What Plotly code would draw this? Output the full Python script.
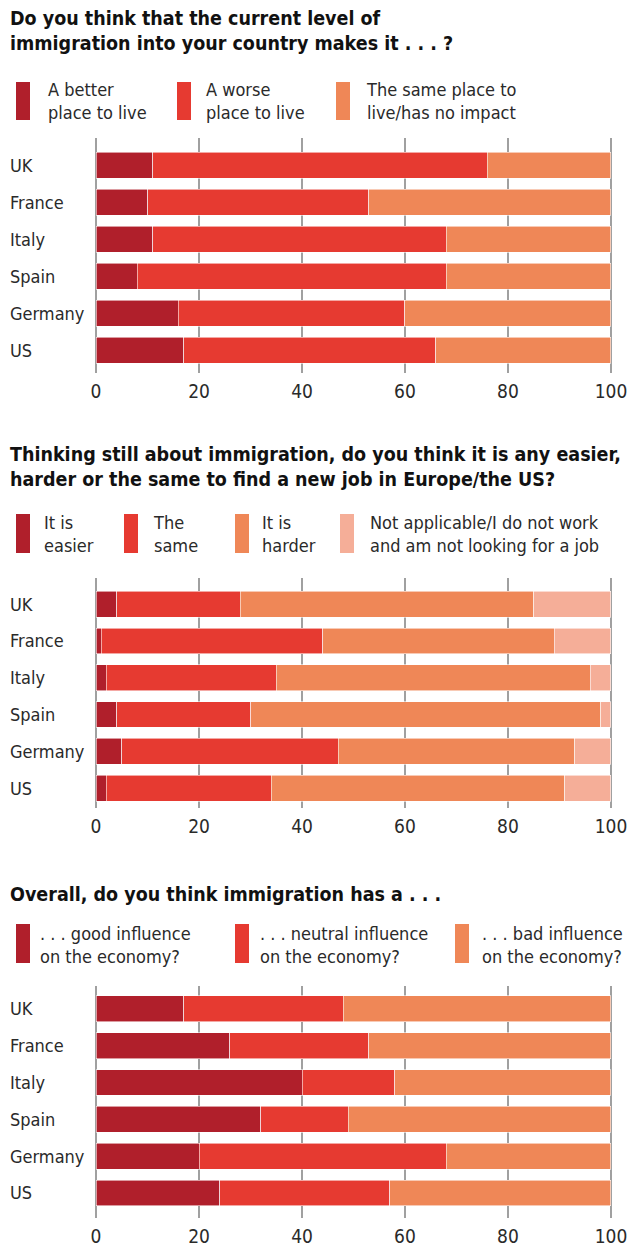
import plotly.graph_objects as go

W, H = 635, 1249

countries = ["UK", "France", "Italy", "Spain", "Germany", "US"]

# Chart 1: current level of immigration makes country ...
c1_better = [11, 10, 11, 8, 16, 17]
c1_worse = [65, 43, 57, 60, 44, 49]
c1_same = [24, 47, 32, 32, 40, 34]
c1_names = ["A better<br>place to live", "A worse<br>place to live", "The same place to<br>live/has no impact"]

# Chart 2: easier/harder to find a job
c2_easier = [4, 1, 2, 4, 5, 2]
c2_same = [24, 43, 33, 26, 42, 32]
c2_harder = [57, 45, 61, 68, 46, 57]
c2_na = [15, 11, 4, 2, 7, 9]
c2_names = ["It is<br>easier", "The<br>same", "It is<br>harder", "Not applicable/I do not work<br>and am not looking for a job"]

# Chart 3: influence on the economy
c3_good = [17, 26, 40, 32, 20, 24]
c3_neutral = [31, 27, 18, 17, 48, 33]
c3_bad = [52, 47, 42, 51, 32, 43]
c3_names = [". . . good influence<br>on the economy?", ". . . neutral influence<br>on the economy?", ". . . bad influence<br>on the economy?"]

titles = [
    "Do you think that the current level of<br>immigration into your country makes it . . . ?",
    "Thinking still about immigration, do you think it is any easier,<br>harder or the same to find a new job in Europe/the US?",
    "Overall, do you think immigration has a . . .",
]

x_ticks = [0, 20, 40, 60, 80, 100]
colors = ["#B01F2B", "#E63A31", "#EF8757", "#F5AE98"]

FONT = "DejaVu Sans Condensed, Liberation Sans Narrow, sans-serif"
TXT = "#2a2a2a"


def fx(px):
    return px / W


def fy(py):
    return 1 - py / H


fig = go.Figure()

charts = [
    dict(series=[c1_better, c1_worse, c1_same], names=c1_names, top=138, bottom=373, yr=[5.61, -0.73],
         title_y=5, leg_top=82, leg_h=38, leg_line1=89, sw_x=[16, 177, 336], tx_x=[46, 204, 364]),
    dict(series=[c2_easier, c2_same, c2_harder, c2_na], names=c2_names, top=578, bottom=808, yr=[5.54, -0.71],
         title_y=441, leg_top=514, leg_h=39, leg_line1=522, sw_x=[16, 124, 235, 340], tx_x=[42, 151, 260, 368]),
    dict(series=[c3_good, c3_neutral, c3_bad], names=c3_names, top=986, bottom=1218, yr=[5.68, -0.62],
         title_y=881, leg_top=924, leg_h=39, leg_line1=933, sw_x=[16, 235, 455], tx_x=[38, 258, 480]),
]

annotations = []
shapes = []
for i, ch in enumerate(charts):
    k = "" if i == 0 else str(i + 1)
    for j, (vals, name) in enumerate(zip(ch["series"], ch["names"])):
        fig.add_trace(go.Bar(
            x=vals, y=countries, orientation="h", name=name,
            marker=dict(color=colors[j], line=dict(color="rgba(255,255,255,0.7)", width=0.8)),
            width=0.7, showlegend=False, xaxis="x" + k, yaxis="y" + k,
            hoverinfo="x+y",
        ))
        # legend swatch
        shapes.append(dict(type="rect", xref="paper", yref="paper",
                           x0=fx(ch["sw_x"][j]), x1=fx(ch["sw_x"][j] + 14),
                           y0=fy(ch["leg_top"] + ch["leg_h"]), y1=fy(ch["leg_top"]),
                           fillcolor=colors[j], line=dict(width=0)))
        annotations.append(dict(xref="paper", yref="paper", x=fx(ch["tx_x"][j]), y=fy(ch["leg_line1"] - 12),
                                xanchor="left", yanchor="top", align="left", showarrow=False,
                                text=name, font=dict(family=FONT, size=18, color=TXT)))
    # title
    annotations.append(dict(xref="paper", yref="paper", x=fx(8), y=fy(ch["title_y"]),
                            xanchor="left", yanchor="top", align="left", showarrow=False,
                            text="<b>" + titles[i] + "</b>", font=dict(family=FONT, size=19.5, color="#111")))
    # category labels, left aligned
    for c in countries:
        annotations.append(dict(xref="paper", yref="y" + k, x=fx(8), y=c, xanchor="left", yanchor="middle",
                                showarrow=False, text=c, font=dict(family=FONT, size=18, color=TXT)))
    fig.layout["xaxis" + k] = dict(
        domain=[fx(95), fx(612)], range=[-0.2, 100.2], tickvals=x_ticks, ticktext=[str(t) for t in x_ticks],
        showgrid=True, gridcolor="#a0a0a0", gridwidth=1.5, zeroline=False, showline=False, ticks="",
        anchor="y" + k, tickfont=dict(family=FONT, size=19, color=TXT), ticklabelstandoff=5,
        fixedrange=True, automargin=False,
    )
    fig.layout["yaxis" + k] = dict(
        domain=[fy(ch["bottom"]), fy(ch["top"])], type="category", categoryorder="array",
        categoryarray=countries, range=ch["yr"], showticklabels=False, showgrid=False,
        zeroline=False, showline=False, anchor="x" + k, fixedrange=True, automargin=False,
    )

fig.update_layout(
    width=W, height=H, margin=dict(l=0, r=0, t=0, b=0, autoexpand=False),
    barmode="stack", bargap=0.3, plot_bgcolor="white", paper_bgcolor="white",
    annotations=annotations, shapes=shapes, showlegend=False,
)

fig.write_html("out.html")
